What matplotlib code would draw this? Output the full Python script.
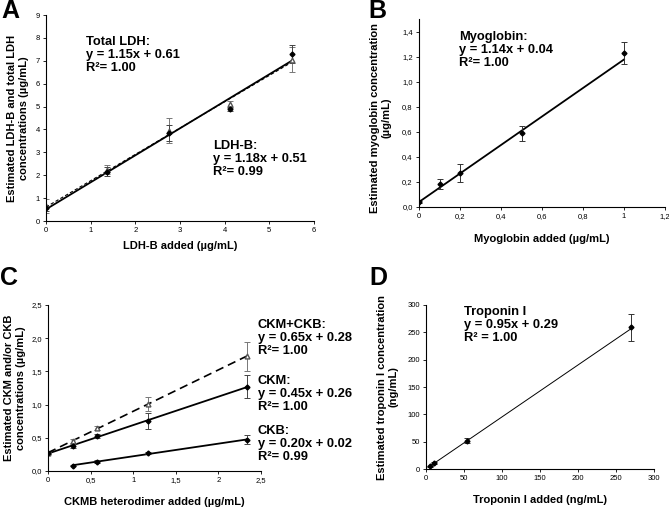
import numpy as np
import matplotlib.pyplot as plt

plt.rcParams['font.family'] = ['Liberation Sans', 'DejaVu Sans']

# Panel A: LDH-B
a_x = [0, 1.375, 2.75, 4.125, 5.5]
a_ldhb = [0.55, 2.15, 3.85, 4.9, 7.3]
a_ldhb_err = [0.1, 0.2, 0.35, 0.1, 0.4]
a_total = [0.65, 2.25, 3.95, 5.1, 7.05]
a_total_err = [0.3, 0.2, 0.55, 0.15, 0.55]
a_fit_ldhb = (1.18, 0.51)
a_fit_total = (1.15, 0.61)

# Panel B: myoglobin
b_x = [0, 0.1, 0.2, 0.5, 1.0]
b_y = [0.04, 0.18, 0.27, 0.59, 1.23]
b_err = [0.01, 0.04, 0.07, 0.06, 0.09]
b_fit = (1.14, 0.04)

# Panel C: CKMB
c_x = [0, 0.29, 0.58, 1.17, 2.34]
c_sum = [0.27, 0.45, 0.65, 1.01, 1.73]
c_sum_err = [0.02, 0.03, 0.03, 0.1, 0.22]
c_ckm = [0.27, 0.37, 0.53, 0.75, 1.27]
c_ckm_err = [0.02, 0.03, 0.03, 0.12, 0.17]
c_ckb_x = [0.29, 0.58, 1.17, 2.34]
c_ckb = [0.08, 0.14, 0.27, 0.47]
c_ckb_err = [0.01, 0.02, 0.02, 0.07]

# Panel D: troponin I
d_x = [5.4, 10.8, 54, 270]
d_y = [5, 11, 52, 259]
d_err = [1, 2, 4, 24]
d_fit = (0.95, 0.29)

W, H = 669, 509
fig = plt.figure(figsize=(W / 100, H / 100), dpi=100)


def add_ax(l, t, r, b):
    ax = fig.add_axes([l / W, 1 - b / H, (r - l) / W, (b - t) / H])
    for s in ['top', 'right']:
        ax.spines[s].set_visible(False)
    ax.tick_params(labelsize=5.5, length=2.5, width=0.6, direction='out', pad=2)
    for s in ['left', 'bottom']:
        ax.spines[s].set_linewidth(0.8)
    return ax


def comma(v, pos):
    return ('%.1f' % v).replace('.', ',')


def comma_x(v, pos):
    return ('%g' % round(v, 2)).replace('.', ',')


def ftext(x, y, s, size=9.3):
    fig.text(x / W, 1 - y / H, s, fontsize=size, fontweight='bold', va='top', ha='left',
             linespacing=1.1)


def line(ax, x0, x1, fit, **kw):
    xs = np.array([x0, x1])
    ax.plot(xs, fit[0] * xs + fit[1], **kw)


lab = dict(fontsize=8.0, fontweight='bold')

# A
ax = add_ax(46, 15, 314, 221)
line(ax, 0, 5.5, a_fit_total, color='black', lw=0.8, ls=(0, (3, 2)))
line(ax, 0, 5.5, a_fit_ldhb, color='black', lw=1.3)
ax.errorbar(a_x, a_total, yerr=a_total_err, fmt='^', ms=3.5, mfc='white', mec='#555555',
            ecolor='#777777', elinewidth=0.7, capsize=2, capthick=0.7)
ax.errorbar(a_x, a_ldhb, yerr=a_ldhb_err, fmt='D', ms=2.5, color='black',
            ecolor='#444444', elinewidth=0.7, capsize=2, capthick=0.7)
ax.set_xlim(0, 6)
ax.set_ylim(0, 9)
ax.set_xticks(range(0, 7))
ax.set_yticks(range(0, 10))
ax.set_xlabel('LDH-B added (µg/mL)', labelpad=5, **lab)
ax.set_ylabel('Estimated LDH-B and total LDH\nconcentrations (µg/mL)', labelpad=5, **lab)
ftext(86, 36, 'Total LDH:\ny = 1.15x + 0.61\nR²= 1.00')
ftext(213, 140, 'LDH-B:\ny = 1.18x + 0.51\nR²= 0.99')

# B
ax = add_ax(419, 19.5, 665, 207)
line(ax, 0, 1.0, b_fit, color='black', lw=1.3)
ax.errorbar(b_x, b_y, yerr=b_err, fmt='D', ms=2.5, color='black',
            ecolor='#333333', elinewidth=0.7, capsize=2, capthick=0.7)
ax.set_xlim(0, 1.2)
ax.set_ylim(0, 1.5)
ax.set_xticks([0, 0.2, 0.4, 0.6, 0.8, 1.0, 1.2])
ax.set_yticks([0, 0.2, 0.4, 0.6, 0.8, 1.0, 1.2, 1.4])
ax.xaxis.set_major_formatter(plt.FuncFormatter(comma_x))
ax.yaxis.set_major_formatter(plt.FuncFormatter(comma))
ax.set_xlabel('Myoglobin added (µg/mL)', labelpad=10, **lab)
ax.set_ylabel('Estimated myoglobin concentration\n(µg/mL)', **lab)
ax.yaxis.set_label_coords(-0.11, 0.475)
ftext(459, 31, 'Myoglobin:\ny = 1.14x + 0.04\nR²= 1.00')

# C
ax = add_ax(48, 305, 261, 471)
p = np.polyfit(c_x, c_sum, 1)
line(ax, 0, 2.34, p, color='black', lw=1.2, ls=(0, (5, 3)))
p = np.polyfit(c_x, c_ckm, 1)
line(ax, 0, 2.34, p, color='black', lw=1.3)
p = np.polyfit(c_ckb_x, c_ckb, 1)
line(ax, 0.29, 2.34, p, color='black', lw=1.3)
ax.errorbar(c_x, c_sum, yerr=c_sum_err, fmt='^', ms=3.5, mfc='white', mec='#555555',
            ecolor='#777777', elinewidth=0.7, capsize=2, capthick=0.7)
ax.errorbar(c_x, c_ckm, yerr=c_ckm_err, fmt='D', ms=2.5, color='black',
            ecolor='#444444', elinewidth=0.7, capsize=2, capthick=0.7)
ax.errorbar(c_ckb_x, c_ckb, yerr=c_ckb_err, fmt='D', ms=2.5, color='black',
            ecolor='#444444', elinewidth=0.7, capsize=2, capthick=0.7)
ax.set_xlim(0, 2.5)
ax.set_ylim(0, 2.5)
ax.set_xticks([0, 0.5, 1, 1.5, 2, 2.5])
ax.set_yticks([0, 0.5, 1.0, 1.5, 2.0, 2.5])
ax.xaxis.set_major_formatter(plt.FuncFormatter(comma_x))
ax.yaxis.set_major_formatter(plt.FuncFormatter(comma))
ax.set_xlabel('CKMB heterodimer added (µg/mL)', labelpad=9, **lab)
ax.set_ylabel('Estimated CKM and/or CKB\nconcentrations (µg/mL)', labelpad=4, **lab)
ftext(258, 319, 'CKM+CKB:\ny = 0.65x + 0.28\nR²= 1.00')
ftext(258, 375, 'CKM:\ny = 0.45x + 0.26\nR²= 1.00')
ftext(258, 425, 'CKB:\ny = 0.20x + 0.02\nR²= 0.99')

# D
ax = add_ax(426, 305, 654, 469)
line(ax, 5.4, 270, d_fit, color='black', lw=0.7)
ax.errorbar(d_x, d_y, yerr=d_err, fmt='D', ms=2.5, color='black',
            ecolor='#333333', elinewidth=0.7, capsize=2, capthick=0.7)
ax.set_xlim(0, 300)
ax.set_ylim(0, 300)
ax.set_xticks(range(0, 301, 50))
ax.set_yticks(range(0, 301, 50))
ax.set_xlabel('Troponin I added (ng/mL)', labelpad=9, **lab)
ax.set_ylabel('Estimated troponin I concentration\n(ng/mL)', labelpad=6, **lab)
ftext(464, 306, 'Troponin I\ny = 0.95x + 0.29\nR² = 1.00')

# panel letters
for s, x, y in [('A', 1, -1), ('B', 368, -1), ('C', 0, 266), ('D', 369, 266)]:
    fig.text(x / W, 1 - y / H, s, fontsize=18, fontweight='bold', va='top', ha='left')

fig.savefig('out.png', dpi=100)
